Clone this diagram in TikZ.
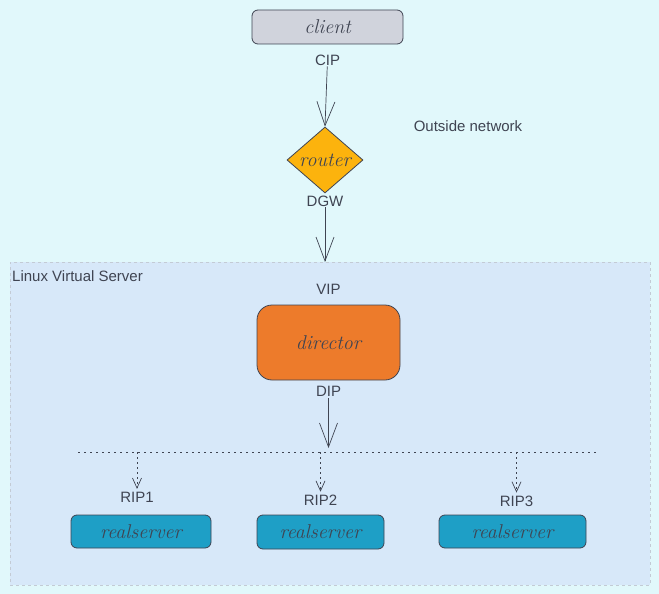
\documentclass[tikz,border=0pt]{standalone}
\usepackage{fontspec}
\setsansfont{Liberation Sans}
\usetikzlibrary{arrows.meta,positioning,shapes.geometric}

\definecolor{bgcyan}{HTML}{E1F8FB}
\definecolor{lvsblue}{HTML}{D7E8F9}
\definecolor{lvsedge}{HTML}{C3CBD5}
\definecolor{inkgray}{HTML}{3F4452}
\definecolor{clientgray}{HTML}{D0D3DC}
\definecolor{routeryellow}{HTML}{FCB30D}
\definecolor{directororange}{HTML}{ED7B2B}
\definecolor{serverblue}{HTML}{1E9FC6}

\newcommand{\hand}{\rmfamily\itshape\fontsize{20}{22}\selectfont}

\begin{document}
\begin{tikzpicture}[x=1pt,y=-1pt,>={Straight Barb[length=24pt,width=18pt]},
  every node/.style={text=inkgray,font=\sffamily\fontsize{15}{17}\selectfont},
  box/.style={draw=inkgray,line width=0.8pt,rounded corners=6pt,minimum height=34pt,font=\hand},
  lbl/.style={inner sep=1pt},
  link/.style={->,draw=inkgray,line width=0.7pt},
  feed/.style={-{Straight Barb[length=10pt,width=9pt]},draw=inkgray,line width=0.7pt,dash pattern=on 2pt off 3pt}]
	\fill[bgcyan] (0,0) rectangle (659,594);
	\useasboundingbox (0,0) rectangle (659,594);
	% LVS area
	\node[draw=lvsedge,dashed,fill=lvsblue,minimum width=640pt,minimum height=323pt,anchor=north west,inner sep=0pt] (lvs) at (10,262) {};
	\node[anchor=north west,inner sep=2pt] (lvstitle) at ([yshift=-6pt]lvs.north west) {Linux Virtual Server};
	\node (outside) at (468,126) {Outside network};
	% outside part
	\node[box,fill=clientgray,minimum width=151pt] (client) at (327.5,27) {client};
	\node[lbl,below=9pt of client] (cip) {CIP};
	\node[diamond,draw=inkgray,line width=0.8pt,fill=routeryellow,inner sep=0pt,minimum width=76pt,minimum height=66pt,font=\hand] (router) at (325,160) {router};
	\node[lbl,below=1pt of router] (dgw) {DGW};
	% director
	\node[box,fill=directororange,minimum width=143pt,minimum height=75pt,rounded corners=15pt] (director) at (328.5,342.5) {director};
	\node[lbl,above=9pt of director] (vip) {VIP};
	\node[lbl,below=5pt of director] (dip) {DIP};
	% real servers
	\node[box,fill=serverblue,minimum width=140pt,minimum height=33pt] (rs1) at (141,531.5) {realserver};
	\node[box,fill=serverblue,minimum width=127pt,minimum height=34pt] (rs2) at (320.5,532) {realserver};
	\node[box,fill=serverblue,minimum width=147pt,minimum height=33pt] (rs3) at (512.5,531.5) {realserver};
	\node[lbl,above=11pt of rs1,xshift=-4pt] (rip1) {RIP1};
	\node[lbl,above=8pt of rs2] (rip2) {RIP2};
	\node[lbl,above=7pt of rs3,xshift=4pt] (rip3) {RIP3};
	\coordinate (busL) at (78,452);
	\coordinate (busR) at (598,452);
	% links
	\draw[link] (cip) -- (router.north);
	\draw[link] (dgw) -- (dgw.south |- lvs.north);
	\draw[link,shorten >=4pt] (dip) -- (dip.south |- busL);
	\draw[inkgray,line width=0.7pt,dash pattern=on 2pt off 4pt] (busL) -- (busR);
	\draw[feed,shorten >=2pt] (rip1 |- busL) -- (rip1);
	\draw[feed,shorten >=2pt] (rip2 |- busL) -- (rip2);
	\draw[feed,shorten >=2pt] (rip3 |- busL) -- (rip3);
\end{tikzpicture}
\end{document}
